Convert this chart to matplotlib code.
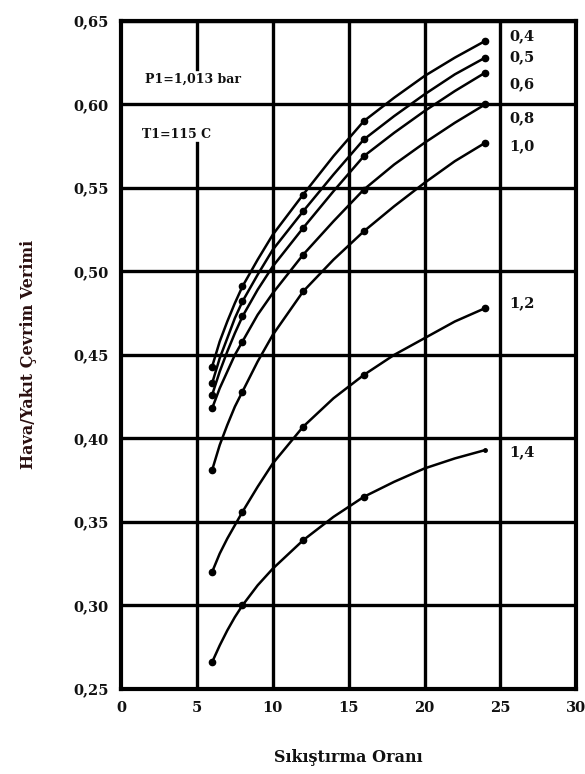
import numpy as np
import matplotlib.pyplot as plt

# compression ratio values
ratio = [6, 6.5, 7, 7.5, 8, 9, 10, 12, 14, 16, 18, 20, 22, 24]
marked = [6, 8, 12, 16, 24]

# air/fuel cycle efficiency for each equivalence ratio
eff_04 = [0.443, 0.458, 0.470, 0.481, 0.491, 0.507, 0.522, 0.546, 0.569, 0.590, 0.604, 0.617, 0.628, 0.638]
eff_05 = [0.433, 0.448, 0.460, 0.472, 0.482, 0.498, 0.513, 0.536, 0.558, 0.579, 0.593, 0.606, 0.618, 0.628]
eff_06 = [0.426, 0.440, 0.452, 0.463, 0.473, 0.489, 0.503, 0.526, 0.548, 0.569, 0.583, 0.596, 0.608, 0.619]
eff_08 = [0.418, 0.430, 0.440, 0.450, 0.458, 0.474, 0.487, 0.510, 0.530, 0.549, 0.564, 0.577, 0.589, 0.600]
eff_10 = [0.381, 0.396, 0.408, 0.419, 0.428, 0.446, 0.462, 0.488, 0.507, 0.524, 0.539, 0.553, 0.566, 0.577]
eff_12 = [0.320, 0.331, 0.340, 0.348, 0.356, 0.371, 0.385, 0.407, 0.424, 0.438, 0.450, 0.460, 0.470, 0.478]
eff_14 = [0.266, 0.276, 0.285, 0.293, 0.300, 0.312, 0.322, 0.339, 0.353, 0.365, 0.374, 0.382, 0.388, 0.393]

curves = [eff_04, eff_05, eff_06, eff_08, eff_10, eff_12, eff_14]
labels = ["0,4", "0,5", "0,6", "0,8", "1,0", "1,2", "1,4"]
label_y = [0.641, 0.628, 0.612, 0.592, 0.575, 0.481, 0.392]

xticks = [0, 5, 10, 15, 20, 25, 30]
yticks = [0.25, 0.30, 0.35, 0.40, 0.45, 0.50, 0.55, 0.60, 0.65]

fnt = "DejaVu Serif"
ink = "#111111"

fig = plt.figure(figsize=(5.85, 7.74), dpi=100)
ax = fig.add_axes([0.207, 0.110, 0.778, 0.863])
ax.set_xlim(0, 30)
ax.set_ylim(0.25, 0.65)

# grid drawn by hand, the x=5 line is broken by the two notes
for yv in yticks:
    ax.axhline(yv, color="black", lw=2.4, zorder=1)
for xv in xticks[2:]:
    ax.axvline(xv, color="black", lw=2.4, zorder=1)
ax.plot([5, 5], [0.621, 0.65], color="black", lw=2.4, zorder=1)
ax.plot([5, 5], [0.25, 0.577], color="black", lw=2.4, zorder=1)

for vals, lab, ly in zip(curves, labels, label_y):
    ax.plot(ratio, vals, color="black", lw=1.8, zorder=3)
    mr = [r for r in ratio if r in marked]
    mvals = [v for r, v in zip(ratio, vals) if r in marked]
    if lab == "1,4":
        # last point of this curve has no real dot
        ax.plot(mr[:-1], mvals[:-1], "o", color="black", ms=4.5, zorder=4)
        ax.plot(mr[-1:], mvals[-1:], "o", color="black", ms=2.5, zorder=4)
    else:
        ax.plot(mr, mvals, "o", color="black", ms=4.5, zorder=4)
    ax.text(25.6, ly, lab, fontsize=10.5, fontweight="bold", family=fnt,
            color=ink, va="center", ha="left")

ax.text(1.6, 0.615, "P1=1,013 bar", fontsize=9, fontweight="bold",
        family=fnt, color=ink, va="center", ha="left")
ax.text(1.4, 0.582, "T1=115 C", fontsize=9, fontweight="bold",
        family=fnt, color=ink, va="center", ha="left")

ax.set_xticks(xticks)
ax.set_yticks(yticks)
ax.set_xticklabels([str(t) for t in xticks], fontsize=10.5,
                   fontweight="bold", family=fnt, color=ink)
ax.set_yticklabels([("%.2f" % t).replace(".", ",") for t in yticks],
                   fontsize=10.5, fontweight="bold", family=fnt, color=ink)
ax.tick_params(length=0, pad=9)
for s in ax.spines.values():
    s.set_linewidth(3)
    s.set_zorder(5)

ax.set_xlabel("Sıkıştırma Oranı", fontsize=11.5, fontweight="bold",
              family=fnt, color=ink, labelpad=24)
ax.set_ylabel("Hava/Yakıt Çevrim Verimi", fontsize=11.5, fontweight="bold",
              family=fnt, color="#2a0f0f", labelpad=26)

fig.savefig("out.png", dpi=100)
